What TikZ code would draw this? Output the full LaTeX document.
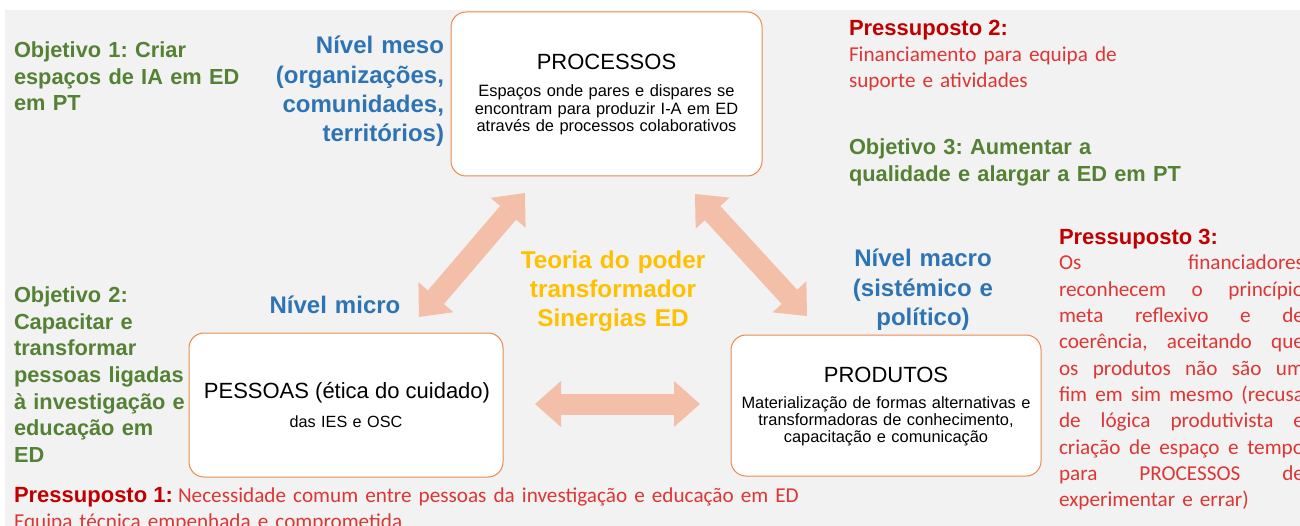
\documentclass[tikz,border=0pt]{standalone}
\usepackage{fontspec}
\setmainfont{Liberation Sans}
\newfontfamily\calibrifont{Carlito}
\usetikzlibrary{arrows.meta}
\definecolor{bggray}{HTML}{F2F2F2}
\definecolor{objgreen}{HTML}{548235}
\definecolor{lvlblue}{HTML}{2E74B5}
\definecolor{presred}{HTML}{C00000}
\definecolor{bodyred}{HTML}{DE3535}
\definecolor{goldtext}{HTML}{FFC000}
\definecolor{salmon}{HTML}{F4BFA9}
\definecolor{boxline}{HTML}{EB8A4E}
\newcommand{\jline}[1]{\leavevmode\hbox to 245pt{#1}}
\begin{document}
\frenchspacing
\begin{tikzpicture}[x=1pt,y=-1pt,
  every node/.style={inner sep=0pt,outer sep=0pt},
  box/.style={draw=boxline,line width=1pt,fill=white,rounded corners=15pt},
  boxtitle/.style={font={\fontsize{22}{26}\selectfont},text=black},
  boxsub/.style={font={\fontsize{16.4}{17.2}\selectfont\lineskiplimit=-100pt},text=black,text width=300pt,align=center},
  objtxt/.style={font={\fontsize{21.8}{26.3}\selectfont\bfseries\lineskiplimit=-100pt},text=objgreen,text width=360pt,align=left},
  lvltxt/.style={font={\fontsize{24}{29.3}\selectfont\bfseries\lineskiplimit=-100pt},text=lvlblue,text width=220pt},
  goldtxt/.style={font={\fontsize{24.3}{29}\selectfont\bfseries\lineskiplimit=-100pt},text=goldtext,text width=260pt,align=center},
  preslabel/.style={font={\fontsize{22}{26}\selectfont\bfseries},text=presred},
  presbody/.style={font={\calibrifont\fontsize{21.2}{26.3}\selectfont\lineskiplimit=-100pt},text=bodyred,text width=300pt,align=left},
  bigtip/.tip={Triangle[length=26pt,width=46pt,line width=0pt]},
  bigarrow/.style={draw=salmon,line width=21pt,arrows={bigtip-bigtip}},
]
\useasboundingbox (0,0) rectangle (1300,526);
\clip (0,0) rectangle (1300,526);
\fill[bggray] (5,10) rectangle (1300,526);

% boxes
\node[box,minimum width=311pt,minimum height=164pt] (procbox) at (606.5,94) {};
\node[boxtitle,anchor=base] (proctitle) at (606.5,70) {PROCESSOS};
\node[boxsub,anchor=base] (procsub) at (606.5,97) {Espaços onde pares e dispares se\\encontram para produzir I-A em ED\\através de processos colaborativos};

\node[box,minimum width=314pt,minimum height=144pt] (pessbox) at (346,405) {};
\node[boxtitle,anchor=base] (pesstitle) at (347,398) {PESSOAS (ética do cuidado)};
\node[boxsub,anchor=base,font={\fontsize{16.2}{17}\selectfont}] (pesssub) at (346,427) {das IES e OSC};

\node[box,minimum width=310pt,minimum height=141pt] (prodbox) at (886,405.5) {};
\node[boxtitle,anchor=base] (prodtitle) at (886,382) {PRODUTOS};
\node[boxsub,anchor=base] (prodsub) at (886,408) {Materialização de formas alternativas e\\transformadoras de conhecimento,\\capacitação e comunicação};

% arrows
\coordinate (la) at (419,317);
\coordinate (lb) at (525,193);
\coordinate (ra) at (695,194);
\coordinate (rb) at (807,316);
\coordinate (ha) at (535,404);
\coordinate (hb) at (700,404);
\draw[bigarrow] (la) -- (lb);
\draw[bigarrow] (ra) -- (rb);
\draw[bigarrow] (ha) -- (hb);

% levels
\node[lvltxt,align=right,anchor=base east] (meso) at (444,54) {Nível meso\\(organizações,\\comunidades,\\territórios)};
\node[lvltxt,align=center,anchor=base] (micro) at (335,314) {Nível micro};
\node[lvltxt,align=center,anchor=base,font={\fontsize{24}{29.3}\selectfont\bfseries\lineskiplimit=-100pt}] (macro) at (923,267) {Nível macro\\(sistémico e\\político)};
\node[goldtxt,anchor=base] (teoria) at (613,269) {Teoria do poder\\transformador\\Sinergias ED};

% objectives
\node[objtxt,anchor=base west] (obj1) at (14,58) {Objetivo 1: Criar\\espaços de IA em ED\\em PT};
\node[objtxt,anchor=base west,font={\fontsize{21.8}{26.5}\selectfont\bfseries\lineskiplimit=-100pt}] (obj2) at (14,303) {Objetivo 2:\\Capacitar e\\transformar\\pessoas ligadas\\à investigação e\\educação em\\ED};
\node[objtxt,anchor=base west] (obj3) at (849,155) {Objetivo 3: Aumentar a\\qualidade e alargar a ED em PT};

% pressupostos
\node[preslabel,anchor=base west] (pres2) at (849,36) {Pressuposto 2:};
\node[presbody,anchor=base west,font={\calibrifont\fontsize{21.2}{25.5}\selectfont\lineskiplimit=-100pt}] (pres2body) at (849,62) {Financiamento para equipa de\\suporte e atividades};

\node[preslabel,anchor=base west] (pres3) at (1059,245) {Pressuposto 3:};
\node[presbody,anchor=base west] (pres3body) at (1059,270) {%
\jline{Os\hfill financiadores}\\
\jline{reconhecem\hfill o\hfill princípio}\\
\jline{meta\hfill reflexivo\hfill e\hfill de}\\
\jline{coerência,\hfill aceitando\hfill que}\\
\jline{os\hfill produtos\hfill não\hfill são\hfill um}\\
\jline{fim\hfill em\hfill sim\hfill mesmo\hfill (recusa}\\
\jline{de\hfill lógica\hfill produtivista\hfill e}\\
\jline{criação\hfill de\hfill espaço\hfill e\hfill tempo}\\
\jline{para\hfill PROCESSOS\hfill de}\\
experimentar e errar)};

\node[preslabel,anchor=base west] (pres1) at (14,502) {Pressuposto 1:};
\node[presbody,anchor=base west,text width=700pt] (pres1body) at (178,502) {Necessidade comum entre pessoas da investigação e educação em ED};
\node[presbody,anchor=base west,text width=700pt] (pres1body2) at (14,528) {Equipa técnica empenhada e comprometida};
\end{tikzpicture}
\end{document}
